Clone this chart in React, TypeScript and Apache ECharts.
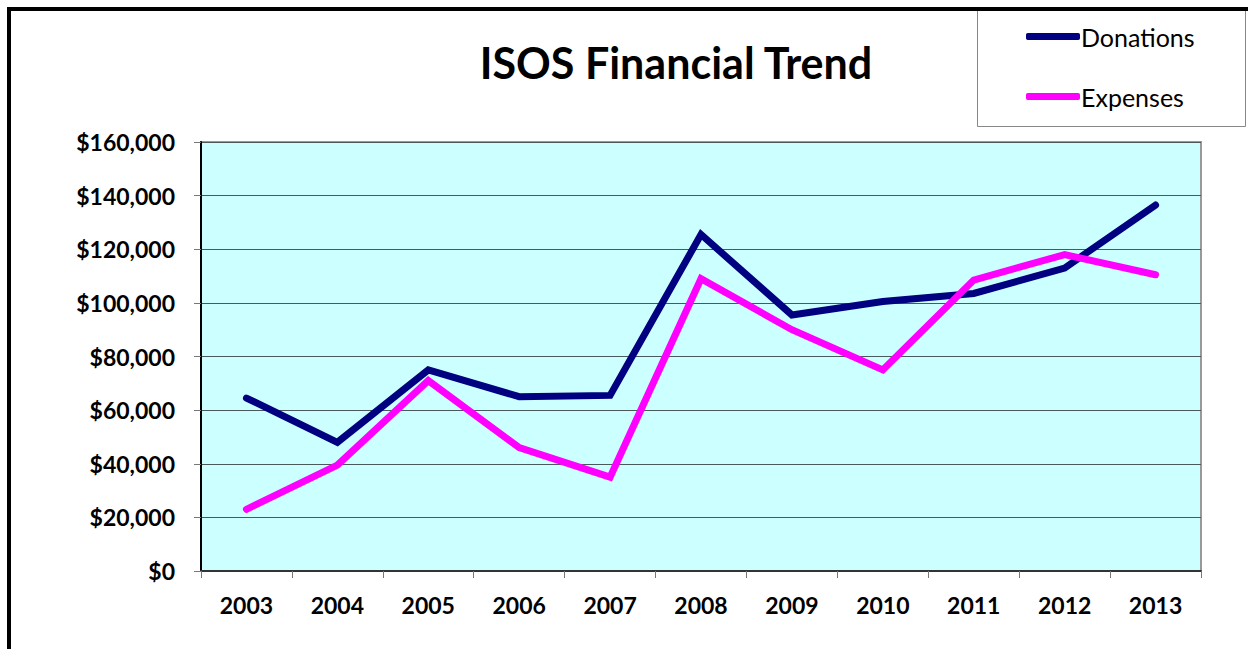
import React, { useEffect, useRef } from "react";
import * as echarts from "echarts";

const years = ["2003", "2004", "2005", "2006", "2007", "2008", "2009", "2010", "2011", "2012", "2013"];
const donations = [64500, 48000, 75000, 65000, 65500, 125500, 95500, 100500, 103500, 113000, 136500];
const expenses = [23000, 39500, 71000, 46000, 35000, 109000, 90000, 75000, 108500, 118000, 110500];

const FONT = "Lato, 'Noto Sans', sans-serif";

export default function App() {
  const ref = useRef<HTMLDivElement>(null);
  useEffect(() => {
    if (!ref.current) return;
    const chart = echarts.init(ref.current, undefined, { renderer: "svg" });
    chart.setOption({
      animation: false,
      backgroundColor: "#ffffff",
      title: {
        text: "ISOS Financial Trend",
        left: 671,
        top: 36,
        textAlign: "center",
        textStyle: { fontFamily: FONT, fontWeight: "bold", fontSize: 43, color: "#000" },
      },
      graphic: [
        {
          type: "rect",
          shape: { x: 9, y: 9, width: 1400, height: 800 },
          style: { fill: "none", stroke: "#000", lineWidth: 4 },
          z: 100,
        },
        {
          type: "rect",
          shape: { x: 977.5, y: 10.5, width: 268, height: 116 },
          style: { fill: "#fff", stroke: "#888", lineWidth: 1 },
          z: 1,
        },
      ],
      legend: {
        orient: "vertical",
        left: 1021,
        top: 19,
        itemWidth: 54,
        itemHeight: 7,
        itemGap: 35,
        icon: "roundRect",
        textStyle: { fontFamily: FONT, fontSize: 25, color: "#000", lineHeight: 25, padding: [0, 0, 0, -4] },
        z: 5,
      },
      grid: {
        left: 201,
        top: 142,
        width: 1000,
        height: 429,
        show: true,
        backgroundColor: "#CCFFFF",
        borderColor: "#999999",
        borderWidth: 2,
      },
      xAxis: {
        type: "category",
        data: years,
        boundaryGap: true,
        axisLine: { show: true, lineStyle: { color: "#333", width: 2 } },
        axisTick: { show: true, length: 7, lineStyle: { color: "#777", width: 1 } },
        axisLabel: {
          fontFamily: FONT,
          fontWeight: "bold",
          fontSize: 23,
          color: "#000",
          margin: 22,
        },
      },
      yAxis: {
        type: "value",
        min: 0,
        max: 160000,
        interval: 20000,
        axisLine: { show: true, lineStyle: { color: "#000", width: 2 } },
        axisTick: { show: true, length: 7, lineStyle: { color: "#777", width: 1 } },
        splitLine: { show: true, lineStyle: { color: "#4a5a5a", width: 1 } },
        axisLabel: {
          fontFamily: FONT,
          fontWeight: "bold",
          fontSize: 23,
          color: "#000",
          margin: 26,
          formatter: (v: number) => "$" + v.toLocaleString("en-US"),
        },
      },
      series: [
        {
          name: "Donations",
          type: "line",
          data: donations,
          symbol: "none",
          lineStyle: { color: "#000080", width: 7, cap: "round", join: "miter" },
          itemStyle: { color: "#000080" },
        },
        {
          name: "Expenses",
          type: "line",
          data: expenses,
          symbol: "none",
          lineStyle: { color: "#FF00FF", width: 7, cap: "round", join: "miter" },
          itemStyle: { color: "#FF00FF" },
        },
      ],
    });
    return () => chart.dispose();
  }, []);
  return (
    <div
      ref={ref}
      style={{ position: "absolute", left: 0, top: 0, width: 1248, height: 649 }}
    />
  );
}
